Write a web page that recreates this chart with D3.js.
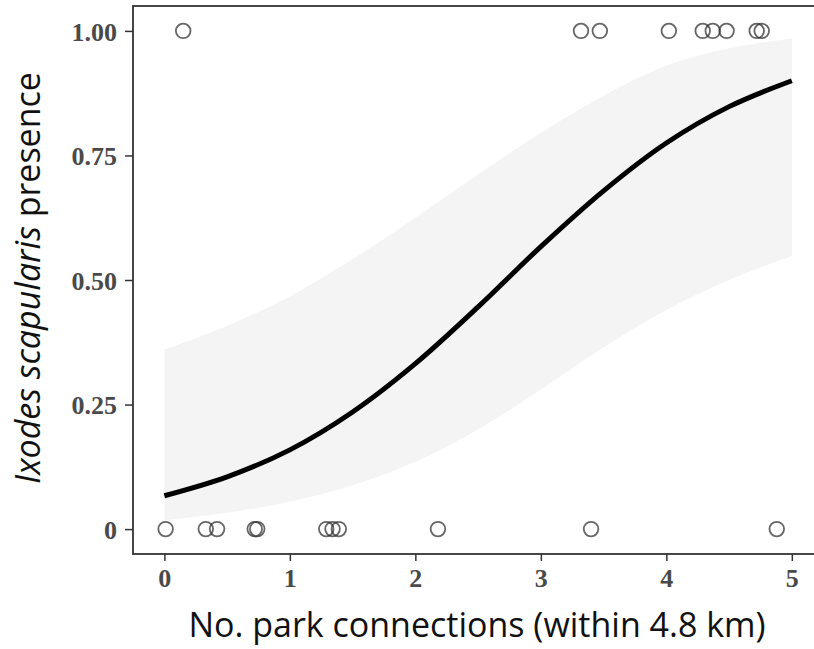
<!DOCTYPE html>
<html lang="en">
<head>
  <meta charset="UTF-8">
  <title>Ixodes scapularis presence vs park connections</title>
  <script src="https://d3js.org/d3.v7.min.js"></script>
  <style>
    body { margin: 0; background: #fff; overflow: hidden; }
    .tick text {
      font-family: "Liberation Serif", "DejaVu Serif", serif;
      font-weight: bold;
      font-size: 26px;
      fill: #4a4a4a;
    }
    .tick line { stroke: #333; stroke-width: 1.5; }
    .title {
      font-family: "Open Sans", "Noto Sans", sans-serif;
      fill: #111;
    }
  </style>
</head>
<body>
  <svg width="814" height="649"></svg>

  <script>
    // observed sites: connections and tick presence (0/1)
    const siteConnections = [0.01, 0.33, 0.42, 0.72, 0.74, 1.29, 1.34, 1.39, 2.18, 3.40, 4.88,
                             0.15, 3.32, 3.47, 4.02, 4.29, 4.37, 4.48, 4.72, 4.76];
    const sitePresence    = [0, 0, 0, 0, 0, 0, 0, 0, 0, 0, 0,
                             1, 1, 1, 1, 1, 1, 1, 1, 1];

    // fitted curve and confidence band
    const fitX  = [0, 0.5, 1, 1.5, 2, 2.5, 3, 3.5, 4, 4.5, 5];
    const fitP  = [0.067, 0.105, 0.159, 0.235, 0.332, 0.446, 0.567, 0.679, 0.775, 0.848, 0.900];
    const fitLo = [0.018, 0.033, 0.055, 0.088, 0.135, 0.200, 0.280, 0.365, 0.440, 0.500, 0.548];
    const fitHi = [0.360, 0.408, 0.467, 0.542, 0.625, 0.712, 0.795, 0.870, 0.930, 0.965, 0.985];

    const xTicks = [0, 1, 2, 3, 4, 5];
    const yTicks = [0, 0.25, 0.5, 0.75, 1];
    const yTickLabels = ["0", "0.25", "0.50", "0.75", "1.00"];

    const svg = d3.select("svg");

    // panel spans a bit past the right edge of the picture (it is cropped there)
    const x = d3.scaleLinear().domain([-0.25, 5.25]).range([133, 823.2]);
    const y = d3.scaleLinear().domain([-0.05, 1.05]).range([554, 6]);

    const fit = fitX.map((d, i) => ({ x: d, p: fitP[i], lo: fitLo[i], hi: fitHi[i] }));

    // confidence band
    svg.append("path")
      .datum(fit)
      .attr("fill", "#f4f4f4")
      .attr("d", d3.area()
        .x(d => x(d.x))
        .y0(d => y(d.lo))
        .y1(d => y(d.hi))
        .curve(d3.curveCatmullRom));

    // fitted line
    svg.append("path")
      .datum(fit)
      .attr("fill", "none")
      .attr("stroke", "#000")
      .attr("stroke-width", 5)
      .attr("d", d3.line()
        .x(d => x(d.x))
        .y(d => y(d.p))
        .curve(d3.curveCatmullRom));

    // observed points
    svg.selectAll(".pt")
      .data(siteConnections)
      .join("circle")
      .attr("class", "pt")
      .attr("cx", d => x(d))
      .attr("cy", (d, i) => y(sitePresence[i]))
      .attr("r", 7.3)
      .attr("fill", "none")
      .attr("stroke", "#333")
      .attr("stroke-opacity", 0.75)
      .attr("stroke-width", 1.8);

    // panel border
    svg.append("rect")
      .attr("x", x.range()[0])
      .attr("y", y.range()[1])
      .attr("width", x.range()[1] - x.range()[0])
      .attr("height", y.range()[0] - y.range()[1])
      .attr("fill", "none")
      .attr("stroke", "#333")
      .attr("stroke-width", 1.8);

    // axes
    const xAxis = svg.append("g")
      .attr("transform", `translate(0,${y.range()[0]})`)
      .call(d3.axisBottom(x).tickValues(xTicks).tickFormat(d3.format("d"))
        .tickSize(7).tickPadding(6));
    xAxis.select(".domain").remove();
    xAxis.selectAll(".tick text").attr("dy", "0.76em");

    const yAxis = svg.append("g")
      .attr("transform", `translate(${x.range()[0]},0)`)
      .call(d3.axisLeft(y).tickValues(yTicks).tickFormat((d, i) => yTickLabels[i])
        .tickSize(8).tickPadding(8));
    yAxis.select(".domain").remove();
    yAxis.selectAll(".tick text").attr("dy", "0.36em");

    // axis titles
    svg.append("text")
      .attr("class", "title")
      .attr("x", 477)
      .attr("y", 637)
      .attr("text-anchor", "middle")
      .style("font-size", "34px")
      .text("No. park connections (within 4.8 km)");

    const yTitle = svg.append("text")
      .attr("class", "title")
      .attr("transform", "translate(40,278) rotate(-90)")
      .attr("text-anchor", "middle")
      .style("font-size", "34px");
    yTitle.append("tspan").style("font-style", "italic").text("Ixodes scapularis");
    yTitle.append("tspan").text(" presence");
  </script>
</body>
</html>
